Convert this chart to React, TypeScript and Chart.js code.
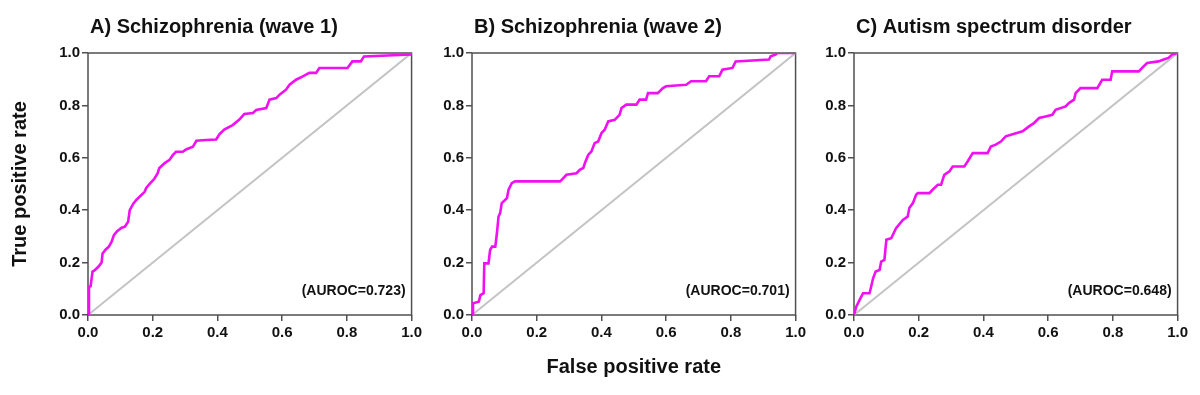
import React, { useEffect, useRef } from "react";
import { Chart, registerables } from "chart.js";

Chart.register(...registerables);

// ---------- data ----------
const panelTitles = ["A) Schizophrenia (wave 1)", "B) Schizophrenia (wave 2)", "C) Autism spectrum disorder"];
const aurocLabels = ["(AUROC=0.723)", "(AUROC=0.701)", "(AUROC=0.648)"];
const yAxisTitle = "True positive rate";
const xAxisTitle = "False positive rate";
const tickValues = [0, 0.2, 0.4, 0.6, 0.8, 1.0];

const fprA = [0, 0.003, 0.008, 0.014, 0.02, 0.032, 0.042, 0.045, 0.055, 0.065, 0.073, 0.08, 0.09, 0.104, 0.114, 0.124, 0.129, 0.14, 0.15, 0.165, 0.175, 0.18, 0.19, 0.205, 0.215, 0.22, 0.237, 0.252, 0.262, 0.272, 0.293, 0.303, 0.324, 0.335, 0.365, 0.396, 0.406, 0.421, 0.447, 0.467, 0.483, 0.51, 0.52, 0.551, 0.561, 0.582, 0.592, 0.612, 0.623, 0.643, 0.664, 0.684, 0.705, 0.715, 0.802, 0.817, 0.843, 0.853, 0.997, 1];
const tprA = [0, 0.108, 0.11, 0.166, 0.17, 0.184, 0.2, 0.235, 0.25, 0.262, 0.28, 0.305, 0.32, 0.333, 0.337, 0.356, 0.4, 0.425, 0.44, 0.458, 0.47, 0.485, 0.5, 0.52, 0.54, 0.56, 0.58, 0.592, 0.61, 0.623, 0.623, 0.632, 0.642, 0.665, 0.668, 0.67, 0.69, 0.708, 0.725, 0.745, 0.767, 0.771, 0.783, 0.79, 0.822, 0.828, 0.841, 0.86, 0.879, 0.898, 0.911, 0.924, 0.924, 0.943, 0.943, 0.968, 0.968, 0.987, 0.994, 1];

const fprB = [0, 0.003, 0.021, 0.026, 0.036, 0.038, 0.051, 0.056, 0.062, 0.072, 0.077, 0.082, 0.087, 0.092, 0.108, 0.113, 0.123, 0.133, 0.272, 0.277, 0.292, 0.323, 0.333, 0.344, 0.349, 0.359, 0.369, 0.379, 0.39, 0.4, 0.41, 0.421, 0.441, 0.456, 0.462, 0.477, 0.508, 0.518, 0.538, 0.544, 0.574, 0.59, 0.6, 0.662, 0.677, 0.723, 0.733, 0.764, 0.774, 0.805, 0.815, 0.918, 0.923, 0.938, 0.944, 1];
const tprB = [0, 0.045, 0.051, 0.076, 0.083, 0.197, 0.197, 0.248, 0.261, 0.261, 0.312, 0.376, 0.389, 0.427, 0.446, 0.478, 0.503, 0.51, 0.51, 0.516, 0.535, 0.541, 0.554, 0.561, 0.58, 0.611, 0.624, 0.656, 0.662, 0.694, 0.707, 0.739, 0.745, 0.764, 0.79, 0.803, 0.803, 0.822, 0.822, 0.847, 0.847, 0.866, 0.873, 0.879, 0.892, 0.892, 0.911, 0.911, 0.936, 0.943, 0.968, 0.975, 0.987, 0.994, 1, 1];

const fprC = [0, 0.007, 0.017, 0.028, 0.048, 0.053, 0.059, 0.067, 0.079, 0.084, 0.094, 0.1, 0.115, 0.13, 0.151, 0.166, 0.171, 0.182, 0.192, 0.197, 0.233, 0.243, 0.259, 0.269, 0.279, 0.295, 0.305, 0.341, 0.351, 0.367, 0.413, 0.423, 0.438, 0.454, 0.469, 0.485, 0.521, 0.541, 0.556, 0.572, 0.592, 0.613, 0.623, 0.654, 0.664, 0.68, 0.685, 0.7, 0.752, 0.767, 0.793, 0.798, 0.88, 0.895, 0.906, 0.941, 0.957, 0.972, 0.983, 1];
const tprC = [0, 0.032, 0.057, 0.083, 0.083, 0.108, 0.14, 0.166, 0.172, 0.204, 0.21, 0.287, 0.293, 0.331, 0.363, 0.376, 0.408, 0.427, 0.459, 0.465, 0.465, 0.478, 0.497, 0.497, 0.535, 0.548, 0.567, 0.567, 0.586, 0.618, 0.618, 0.643, 0.65, 0.662, 0.682, 0.688, 0.701, 0.72, 0.732, 0.752, 0.758, 0.764, 0.783, 0.796, 0.809, 0.822, 0.847, 0.866, 0.866, 0.898, 0.898, 0.93, 0.93, 0.949, 0.962, 0.968, 0.975, 0.981, 0.994, 1];

const chanceX = [0, 1];
const chanceY = [0, 1];

const FONT = "'Liberation Sans', Arial, Helvetica, sans-serif";

const panels = [
  { fpr: fprA, tpr: tprA, left: 0, width: 425, yWidth: 88, showY: true, showX: false },
  { fpr: fprB, tpr: tprB, left: 422, width: 387, yWidth: 50, showY: false, showX: true },
  { fpr: fprC, tpr: tprC, left: 804, width: 387, yWidth: 50, showY: false, showX: false },
];

const decorPlugin = {
  id: "decor",
  beforeDatasetsDraw(chart: any) {
    const { ctx, chartArea } = chart;
    ctx.save();
    ctx.strokeStyle = "#505050";
    ctx.lineWidth = 1.5;
    ctx.strokeRect(chartArea.left, chartArea.top, chartArea.right - chartArea.left, chartArea.bottom - chartArea.top);
    ctx.restore();
  },
  afterDraw(chart: any, _args: any, opts: any) {
    const { ctx, chartArea } = chart;
    ctx.save();
    ctx.fillStyle = "#111";
    ctx.font = `bold 20px ${FONT}`;
    ctx.textAlign = "left";
    ctx.textBaseline = "middle";
    ctx.fillText(opts.title, chartArea.left + 2, 27);
    ctx.font = `bold 14px ${FONT}`;
    ctx.textAlign = "right";
    ctx.fillText(opts.auroc, chartArea.right - 6, 291);
    ctx.restore();
  },
};

function Panel({ idx }: { idx: number }) {
  const ref = useRef<HTMLCanvasElement | null>(null);
  const p = panels[idx];
  useEffect(() => {
    if (!ref.current) return;
    const curve = p.fpr.map((x, i) => ({ x, y: p.tpr[i] }));
    const chance = chanceX.map((x, i) => ({ x, y: chanceY[i] }));
    const tickOpts = {
      color: "#111",
      font: { family: FONT, size: 15, weight: "bold" as const },
      padding: 2,
      callback: (v: any) => {
        const m = tickValues.find((t) => Math.abs(t - v) < 1e-6);
        return m === undefined ? "" : m.toFixed(1);
      },
    };
    const chart = new Chart(ref.current, {
      type: "scatter",
      data: {
        datasets: [
          {
            data: curve,
            showLine: true,
            borderColor: "#f010f0",
            borderWidth: 2.6,
            pointRadius: 0,
            tension: 0,
          },
          {
            data: chance,
            showLine: true,
            borderColor: "#c4c4c4",
            borderWidth: 2,
            pointRadius: 0,
            tension: 0,
          },
        ],
      },
      options: {
        animation: false,
        responsive: false,
        layout: { padding: { left: 0, right: 12, top: 53, bottom: 0 } },
        plugins: {
          legend: { display: false },
          tooltip: { enabled: false },
          decor: { title: panelTitles[idx], auroc: aurocLabels[idx] },
        } as any,
        scales: {
          x: {
            type: "linear",
            min: 0,
            max: 1,
            afterFit: (s: any) => {
              s.height = 80;
            },
            afterBuildTicks: (s: any) => {
              s.ticks = tickValues.map((v) => ({ value: v }));
            },
            grid: { display: true, drawOnChartArea: false, drawTicks: true, tickLength: 6, color: "#505050", lineWidth: 1.5 },
            border: { display: false },
            ticks: { ...tickOpts, padding: 3, maxRotation: 0 },
            title: {
              display: p.showX,
              text: xAxisTitle,
              color: "#111",
              font: { family: FONT, size: 20, weight: "bold" },
              padding: { top: 0, bottom: 16 },
            },
          },
          y: {
            type: "linear",
            min: 0,
            max: 1,
            afterFit: (s: any) => {
              s.width = p.yWidth;
            },
            afterBuildTicks: (s: any) => {
              s.ticks = tickValues.map((v) => ({ value: v }));
            },
            grid: { display: true, drawOnChartArea: false, drawTicks: true, tickLength: 6, color: "#505050", lineWidth: 1.5 },
            border: { display: false },
            ticks: tickOpts,
            title: {
              display: p.showY,
              text: yAxisTitle,
              color: "#111",
              font: { family: FONT, size: 20, weight: "bold" },
              padding: { top: 8, bottom: 0 },
            },
          },
        },
      },
      plugins: [decorPlugin],
    });
    return () => chart.destroy();
  }, [idx]);
  return (
    <canvas
      ref={ref}
      width={p.width}
      height={395}
      style={{ position: "absolute", left: p.left, top: 0, width: p.width, height: 395 }}
    />
  );
}

export default function App() {
  return (
    <div style={{ position: "fixed", left: 0, top: 0, width: 1200, height: 395, background: "#fff", overflow: "hidden" }}>
      {panels.map((_, i) => (
        <Panel key={i} idx={i} />
      ))}
    </div>
  );
}
